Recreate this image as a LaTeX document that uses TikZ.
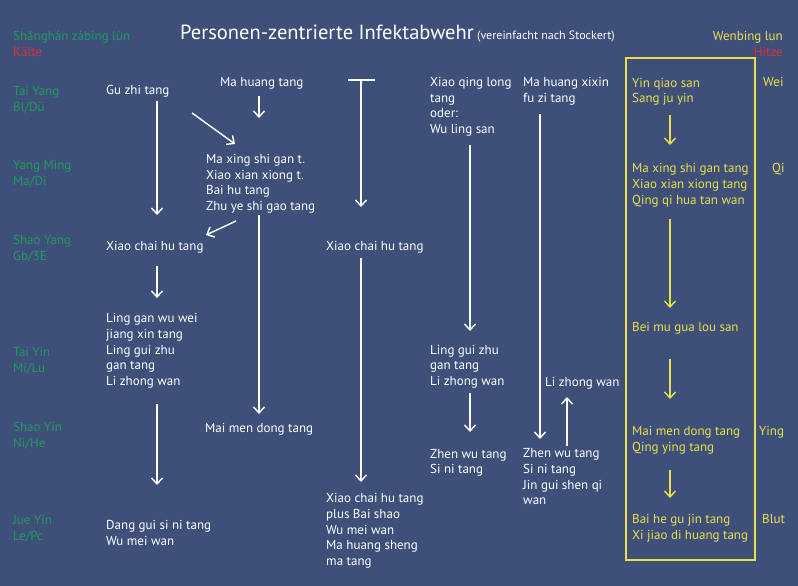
\documentclass[tikz,border=0pt]{standalone}
\usepackage{fontspec}
\setmainfont{PT Sans}
\usetikzlibrary{arrows.meta}
\definecolor{bg}{HTML}{3E5079}
\definecolor{tcmgreen}{HTML}{1F9A5C}
\definecolor{tcmred}{HTML}{D8323A}
\definecolor{tcmyellow}{HTML}{E8E04A}
\tikzset{
  lbl/.style={anchor=base west, inner sep=0pt, align=left, font=\fontsize{13}{15.7}\selectfont},
  wt/.style={lbl, text=white},
  gt/.style={lbl, text=tcmgreen},
  rt/.style={lbl, text=tcmred},
  yt/.style={lbl, text=tcmyellow},
  arr/.style={draw=white, line width=1.4pt, -{Straight Barb[length=6pt,width=11pt]}},
  yarr/.style={draw=tcmyellow, line width=1.4pt, -{Straight Barb[length=6pt,width=11pt]}},
}
\begin{document}
\begin{tikzpicture}[x=1pt,y=-1pt]
\fill[bg] (0,0) rectangle (798,586);
\useasboundingbox (0,0) rectangle (798,586);
% title
\node[anchor=base west, inner sep=0pt, text=white, font=\fontsize{20.5}{25}\selectfont] (title) at (180,40)
  {Personen-zentrierte Infektabwehr};
\node[anchor=base west, inner sep=0pt, text=white, font=\fontsize{12}{14}\selectfont] (subtitle) at (477,40)
  {(vereinfacht nach Stockert)};
% left labels (anchored at last line baseline)
\node[gt] (shl) at (13,41) {Shānghán zábing lùn};
\node[rt] (kalte) at (13,57) {Kälte};
\node[gt] (taiyang) at (13,111.2) {Tai Yang\\Bl/Dü};
\node[gt] (yangming) at (13,185.2) {Yang Ming\\Ma/Di};
\node[gt] (shaoyang) at (13,260) {Shao Yang\\Gb/3E};
\node[gt] (taiyin) at (13,372.2) {Tai Yin\\Mi/Lu};
\node[gt] (shaoyin) at (13,447.2) {Shao Yin\\Ni/He};
\node[gt] (jueyin) at (13,540.2) {Jue Yin\\Le/Pc};
% right labels
\node[yt, anchor=base east] (wenbing) at (783,40.5) {Wenbing lun};
\node[rt, anchor=base east] (hitze) at (783,56.5) {Hitze};
\node[yt] (wei) at (763,86.5) {Wei};
\node[yt] (qi) at (772,172.5) {Qi};
\node[yt] (ying) at (759,435.5) {Ying};
\node[yt] (blut) at (762,523.5) {Blut};
% column 1
\node[wt] (guzhi) at (106,94.5) {Gu zhi tang};
\node[wt] (xch1) at (106,250.5) {Xiao chai hu tang};
\node[wt] (ling) at (106,385.5) {Ling gan wu wei\\jiang xin tang\\Ling gui zhu\\gan tang\\Li zhong wan};
\node[wt] (dang) at (106,545.2) {Dang gui si ni tang\\Wu mei wan};
% column 2
\node[wt] (mahuang) at (220,86.5) {Ma huang tang};
\node[wt] (maxing) at (206,210.5) {Ma xing shi gan t.\\Xiao xian xiong t.\\Bai hu tang\\Zhu ye shi gao tang};
\node[wt] (maimen) at (205,432.5) {Mai men dong tang};
% column 3
\node[wt] (xch2) at (326,250.5) {Xiao chai hu tang};
\node[wt] (xch3) at (326,565.5) {Xiao chai hu tang\\plus Bai shao\\Wu mei wan\\Ma huang sheng\\ma tang};
% column 4
\node[wt] (xqlt) at (430,133.5) {Xiao qing long\\tang\\oder:\\Wu ling san};
\node[wt] (lgz) at (430,385.5) {Ling gui zhu\\gan tang\\Li zhong wan};
\node[wt] (zw1) at (430,473.8) {Zhen wu tang\\Si ni tang};
% column 5
\node[wt] (mhx) at (523,102.3) {Ma huang xixin\\fu zi tang};
\node[wt] (lzw) at (545,386.5) {Li zhong wan};
\node[wt] (zw2) at (523,504.8) {Zhen wu tang\\Si ni tang\\Jin gui shen qi\\wan};
% yellow column
\draw[draw=tcmyellow, line width=1.5pt] (626,58) rectangle (755,560);
\node[yt] (y1) at (632,102.8) {Yin qiao san\\Sang ju yin};
\node[yt] (y2) at (632,204.3) {Ma xing shi gan tang\\Xiao xian xiong tang\\Qing qi hua tan wan};
\node[yt] (y3) at (632,331.5) {Bei mu gua lou san};
\node[yt] (y4) at (632,451.3) {Mai men dong tang\\Qing ying tang};
\node[yt] (y5) at (632,539.3) {Bai he gu jin tang\\Xi jiao di huang tang};
% arrow coordinates
\coordinate (a1s) at (157,101); \coordinate (a1e) at (157,215);
\coordinate (a2s) at (157,266); \coordinate (a2e) at (157,298);
\coordinate (a3s) at (157,404); \coordinate (a3e) at (157,485);
\coordinate (a4s) at (259,96);  \coordinate (a4e) at (259,118);
\coordinate (a5s) at (192,113); \coordinate (a5e) at (235,144);
\coordinate (a6s) at (236,221); \coordinate (a6e) at (206,235);
\coordinate (a7s) at (259,215); \coordinate (a7e) at (259,414);
\coordinate (tl) at (348,80); \coordinate (tr) at (375,80);
\coordinate (ts) at (361,80); \coordinate (te) at (361,207);
\coordinate (a8s) at (361,258); \coordinate (a8e) at (361,482);
\coordinate (a9s) at (470,145); \coordinate (a9e) at (470,331);
\coordinate (a10s) at (470,393); \coordinate (a10e) at (470,432);
\coordinate (a11s) at (540,114); \coordinate (a11e) at (540,439);
\coordinate (a12s) at (567,446); \coordinate (a12e) at (567,397);
\coordinate (y1s) at (670,115); \coordinate (y1e) at (670,145);
\coordinate (y2s) at (670,219); \coordinate (y2e) at (670,308);
\coordinate (y3s) at (670,359); \coordinate (y3e) at (670,399);
\coordinate (y4s) at (670,470); \coordinate (y4e) at (670,498);
% arrows
\draw[arr] (a1s) -- (a1e);
\draw[arr] (a2s) -- (a2e);
\draw[arr] (a3s) -- (a3e);
\draw[arr] (a4s) -- (a4e);
\draw[arr] (a5s) -- (a5e);
\draw[arr] (a6s) -- (a6e);
\draw[arr] (a7s) -- (a7e);
\draw[draw=white, line width=1.4pt] (tl) -- (tr);
\draw[arr] (ts) -- (te);
\draw[arr] (a8s) -- (a8e);
\draw[arr] (a9s) -- (a9e);
\draw[arr] (a10s) -- (a10e);
\draw[arr] (a11s) -- (a11e);
\draw[arr] (a12s) -- (a12e);
\draw[yarr] (y1s) -- (y1e);
\draw[yarr] (y2s) -- (y2e);
\draw[yarr] (y3s) -- (y3e);
\draw[yarr] (y4s) -- (y4e);
\end{tikzpicture}
\end{document}
